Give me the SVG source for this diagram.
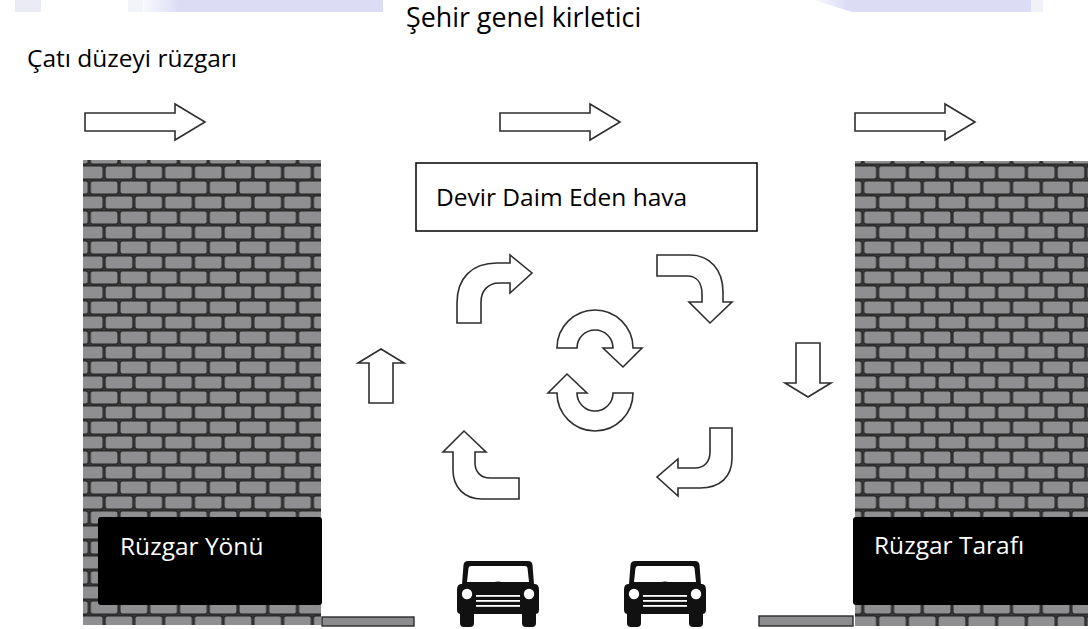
<svg xmlns="http://www.w3.org/2000/svg" width="1088" height="629" viewBox="0 0 1088 629">
  <style>
    .lbl { font-family: "Open Sans", "Noto Sans", "Liberation Sans", sans-serif; font-size: 24.5px; fill: #000; }
    .ttl { font-family: "Open Sans", "Noto Sans", "Liberation Sans", sans-serif; font-size: 26.8px; fill: #000; }
    .lbl-w { font-family: "Open Sans", "Noto Sans", "Liberation Sans", sans-serif; font-size: 24.5px; fill: #fff; }
    .flow { fill: #fff; stroke: #2e2e2e; stroke-width: 1.6; stroke-linejoin: miter; }
    .ground { fill: #8c8c8e; stroke: #2a2a2a; stroke-width: 1.4; }
    .tag { fill: #000; }
    .car-body { fill: #111; }
    .car-lite { fill: #fff; }
  </style>
  <defs>
    <!-- running-bond brick course: two rows per tile, second row shifted half a brick -->
    <pattern id="bricks" patternUnits="userSpaceOnUse" width="29.75" height="30">
      <rect width="29.75" height="30" fill="#3c3c3c"/>
      <rect x="0.9" y="0.9" width="27.95" height="13.2" rx="2.5" fill="#8f8f91" stroke="#262626" stroke-width="1.3"/>
      <rect x="-13.975" y="15.9" width="27.95" height="13.2" rx="2.5" fill="#8f8f91" stroke="#262626" stroke-width="1.3"/>
      <rect x="15.775" y="15.9" width="27.95" height="13.2" rx="2.5" fill="#8f8f91" stroke="#262626" stroke-width="1.3"/>
    </pattern>
    <linearGradient id="bandFade" x1="0" y1="0" x2="1" y2="0">
      <stop offset="0" stop-color="#dedff6" stop-opacity="0.2"/>
      <stop offset="0.15" stop-color="#dcddf5"/>
      <stop offset="1" stop-color="#dcddf5"/>
    </linearGradient>
    <g id="car">
      <!-- roof frame -->
      <path class="car-body" d="M11,1 H71 Q75,1 75.5,5 L77,24 H5 L6.5,5 Q7,1 11,1 Z"/>
      <path class="car-lite" d="M14,6 H68 Q70,6 70.5,8 L72,22 H10 L11.5,8 Q12,6 14,6 Z"/>
      <!-- body -->
      <path class="car-body" d="M4,24 H30 Q41,19 52,24 H78 Q82,24 82,30 V50 Q82,54 78,54 H4 Q0,54 0,50 V30 Q0,24 4,24 Z"/>
      <!-- wheels -->
      <rect class="car-body" x="3" y="50" width="14" height="17" rx="4"/>
      <rect class="car-body" x="65" y="50" width="14" height="17" rx="4"/>
      <!-- headlights -->
      <circle class="car-lite" cx="10" cy="34" r="5.2"/>
      <circle class="car-lite" cx="72" cy="34" r="5.2"/>
      <!-- grille -->
      <rect class="car-lite" x="19" y="35" width="44" height="1.8"/>
      <rect class="car-lite" x="19" y="40" width="44" height="1.8"/>
      <rect class="car-lite" x="19" y="45" width="44" height="1.8"/>
    </g>
    <path id="windArrow" d="M0,-9 H90 V-18 L120,0 L90,18 V9 H0 Z"/>
  </defs>

  <rect width="1088" height="629" fill="#fff"/>

  <!-- page header bands -->
  <g id="header-bands">
    <rect x="15" y="0" width="26" height="12" fill="#ebebf5"/>
    <rect x="128" y="0" width="15" height="12" fill="#f3f3fa"/>
    <rect x="143" y="0" width="240" height="12" fill="url(#bandFade)"/>
    <polygon points="814,0 1031,0 1031,12 852,12" fill="url(#bandFade)"/>
    <rect x="1031" y="0" width="12" height="12" fill="#f1f1f8"/>
  </g>

  <!-- titles -->
  <g id="title-pollutant">
    <text class="ttl" x="406" y="27">Şehir genel kirletici</text>
  </g>
  <g id="title-roof-wind">
    <text class="lbl" x="27" y="67">Çatı düzeyi rüzgarı</text>
  </g>

  <!-- roof-level wind -->
  <g id="roof-wind" class="flow">
    <use href="#windArrow" x="85" y="122"/>
    <use href="#windArrow" x="500" y="122"/>
    <use href="#windArrow" x="855" y="122"/>
  </g>

  <!-- windward building -->
  <g id="building-left">
    <rect x="83" y="160" width="238" height="465" fill="url(#bricks)"/>
    <rect class="ground" x="322" y="617" width="92" height="9"/>
    <rect class="tag" x="98" y="517" width="224" height="88" rx="3"/>
    <text class="lbl-w" x="120" y="555">Rüzgar Yönü</text>
  </g>

  <!-- leeward building -->
  <g id="building-right">
    <rect x="855" y="161" width="240" height="465" fill="url(#bricks)"/>
    <rect class="ground" x="759" y="616" width="94" height="10"/>
    <rect class="tag" x="853" y="517" width="240" height="88" rx="3"/>
    <text class="lbl-w" x="874" y="554">Rüzgar Tarafı</text>
  </g>

  <!-- canyon vortex label -->
  <g id="vortex-label">
    <rect x="416" y="163" width="341" height="68" fill="#fff" stroke="#111" stroke-width="1.6"/>
    <text class="lbl" x="436" y="206">Devir Daim Eden hava</text>
  </g>

  <!-- recirculating street-canyon flow -->
  <g id="airflow-arrows" class="flow">
    <!-- rising along windward wall -->
    <path d="M369,403 V363 H358 L381,349 L404,363 H393 V403 Z"/>
    <!-- sinking along leeward wall -->
    <path d="M796,343 H820 V383 H831 L808,397 L785,383 H796 Z"/>
    <!-- upper left: up then right -->
    <path d="M457,323 V303 C457,278 472,263 497,263 H510 V255 L532,273 L510,293 V283 H499 C488,283 481,291 481,302 V323 Z"/>
    <!-- upper right: right then down -->
    <path d="M657,255 H690 C710,255 723,270 723,292 V302 H732 L710,323 L689,302 H702 V294 C702,283 697,276 687,276 H657 Z"/>
    <!-- lower left: left then up -->
    <path d="M519,478 H490 C481,478 475,472 475,463 V452 H486 L464,431 L443,452 H453 V470 C453,487 464,499 482,499 H519 Z"/>
    <!-- lower right: down then left -->
    <path d="M710,428 H732 V458 C732,477 720,488 700,488 H678 V496 L657,477 L678,459 V468 H695 C704,468 710,462 710,452 Z"/>
    <!-- central eddy -->
    <path d="M557,348 A38,38 0 0 1 633,348 H642 L623,367 L603,348 H613 A18,18 0 0 0 577,348 Z"/>
    <path d="M633,393 A38,38 0 0 1 557,393 H548 L567,374 L587,393 H577 A18,18 0 0 0 613,393 Z"/>
  </g>

  <!-- street traffic -->
  <g id="car-left">
    <use href="#car" x="457" y="560"/>
  </g>
  <g id="car-right">
    <use href="#car" x="624" y="560"/>
  </g>
</svg>
